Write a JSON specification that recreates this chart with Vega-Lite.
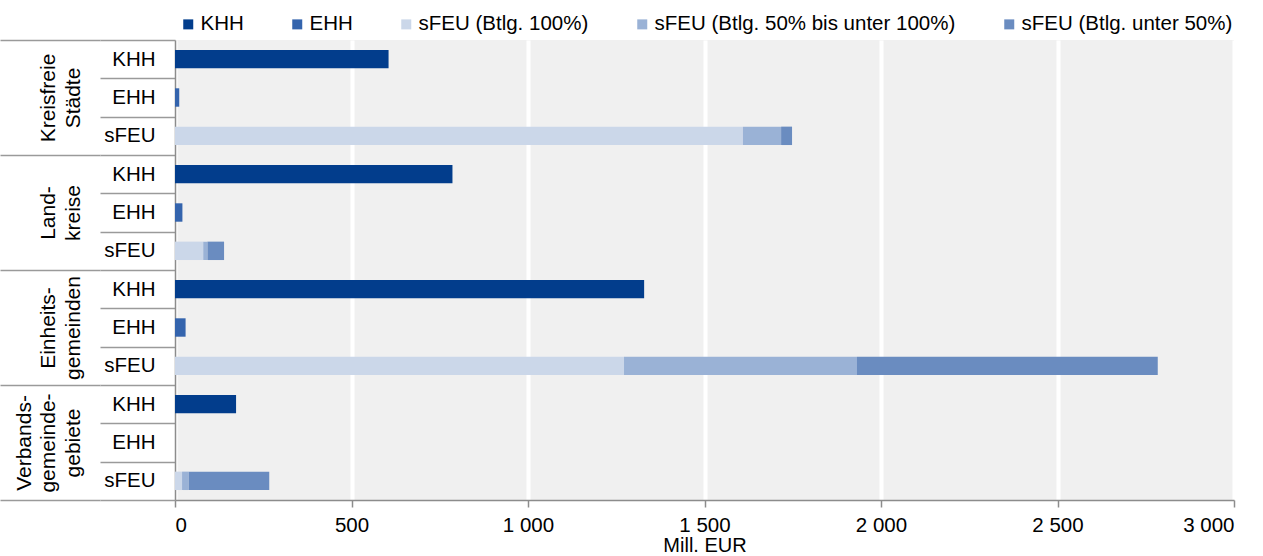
{
  "$schema": "https://vega.github.io/schema/vega-lite/v6.json",
  "width": 1059,
  "height": 460,
  "autosize": {"type": "none"},
  "padding": {"left": 175, "top": 40, "right": 29, "bottom": 56},
  "background": "white",
  "config": {
    "font": "Liberation Sans",
    "view": {"fill": "#F0F0F0", "stroke": null},
    "axis": {"labelColor": "#000000", "titleColor": "#000000", "labelFont": "Liberation Sans", "titleFont": "Liberation Sans"},
    "legend": {"labelColor": "#000000", "labelFont": "Liberation Sans"}
  },
  "data": {
    "values": [
      {"Gruppe": "Kreisfreie Städte", "Kategorie": "KHH", "Reihe": "KHH", "Wert": 605},
      {"Gruppe": "Kreisfreie Städte", "Kategorie": "EHH", "Reihe": "EHH", "Wert": 12},
      {"Gruppe": "Kreisfreie Städte", "Kategorie": "sFEU", "Reihe": "sFEU (Btlg. 100%)", "Wert": 1609},
      {"Gruppe": "Kreisfreie Städte", "Kategorie": "sFEU", "Reihe": "sFEU (Btlg. 50% bis unter 100%)", "Wert": 108},
      {"Gruppe": "Kreisfreie Städte", "Kategorie": "sFEU", "Reihe": "sFEU (Btlg. unter 50%)", "Wert": 31},
      {"Gruppe": "Landkreise", "Kategorie": "KHH", "Reihe": "KHH", "Wert": 786},
      {"Gruppe": "Landkreise", "Kategorie": "EHH", "Reihe": "EHH", "Wert": 21},
      {"Gruppe": "Landkreise", "Kategorie": "sFEU", "Reihe": "sFEU (Btlg. 100%)", "Wert": 80},
      {"Gruppe": "Landkreise", "Kategorie": "sFEU", "Reihe": "sFEU (Btlg. 50% bis unter 100%)", "Wert": 12},
      {"Gruppe": "Landkreise", "Kategorie": "sFEU", "Reihe": "sFEU (Btlg. unter 50%)", "Wert": 47},
      {"Gruppe": "Einheitsgemeinden", "Kategorie": "KHH", "Reihe": "KHH", "Wert": 1329},
      {"Gruppe": "Einheitsgemeinden", "Kategorie": "EHH", "Reihe": "EHH", "Wert": 30},
      {"Gruppe": "Einheitsgemeinden", "Kategorie": "sFEU", "Reihe": "sFEU (Btlg. 100%)", "Wert": 1272},
      {"Gruppe": "Einheitsgemeinden", "Kategorie": "sFEU", "Reihe": "sFEU (Btlg. 50% bis unter 100%)", "Wert": 660},
      {"Gruppe": "Einheitsgemeinden", "Kategorie": "sFEU", "Reihe": "sFEU (Btlg. unter 50%)", "Wert": 852},
      {"Gruppe": "Verbandsgemeindegebiete", "Kategorie": "KHH", "Reihe": "KHH", "Wert": 173},
      {"Gruppe": "Verbandsgemeindegebiete", "Kategorie": "EHH", "Reihe": "EHH", "Wert": 0},
      {"Gruppe": "Verbandsgemeindegebiete", "Kategorie": "sFEU", "Reihe": "sFEU (Btlg. 100%)", "Wert": 20},
      {"Gruppe": "Verbandsgemeindegebiete", "Kategorie": "sFEU", "Reihe": "sFEU (Btlg. 50% bis unter 100%)", "Wert": 19},
      {"Gruppe": "Verbandsgemeindegebiete", "Kategorie": "sFEU", "Reihe": "sFEU (Btlg. unter 50%)", "Wert": 228}
    ]
  },
  "transform": [{"calculate": "datum.Gruppe + '|' + datum.Kategorie", "as": "Zeile"}],
  "layer": [
    {
      "mark": {"type": "bar", "height": {"band": 0.48}},
      "encoding": {
        "y": {
          "field": "Zeile",
          "type": "nominal",
          "sort": null,
          "scale": {"paddingInner": 0, "paddingOuter": 0},
          "axis": {
            "title": null,
            "orient": "left",
            "domain": true,
            "domainColor": "#8C8C8C",
            "domainWidth": 1.5,
            "ticks": true,
            "tickBand": "extent",
            "tickSize": 75,
            "tickColor": "#9A9A9A",
            "tickWidth": 1.5,
            "labelExpr": "split(datum.value, '|')[1]",
            "labelFontSize": 20.5,
            "labelPadding": -55,
            "labelAlign": "right",
            "labelBaseline": "middle",
            "grid": false
          }
        },
        "x": {
          "field": "Wert",
          "type": "quantitative",
          "stack": "zero",
          "scale": {"domain": [0, 3000], "nice": false},
          "axis": {
            "title": "Mill. EUR",
            "values": [0, 500, 1000, 1500, 2000, 2500, 3000],
            "labelExpr": "replace(format(datum.value, ','), ',', ' ')",
            "domainColor": "#8C8C8C",
            "domainWidth": 1.5,
            "tickColor": "#8C8C8C",
            "tickWidth": 1.5,
            "tickSize": 7,
            "labelPadding": 8,
            "labelFontSize": 20.5,
            "titleFontSize": 20,
            "titleFontWeight": "normal",
            "titlePadding": 0,
            "grid": true,
            "gridColor": "#FFFFFF",
            "gridWidth": 4
          }
        },
        "color": {
          "field": "Reihe",
          "type": "nominal",
          "scale": {
            "domain": ["KHH", "EHH", "sFEU (Btlg. 100%)", "sFEU (Btlg. 50% bis unter 100%)", "sFEU (Btlg. unter 50%)"],
            "range": ["#023D8C", "#3464AD", "#CBD7E9", "#9AB2D6", "#6A8CC0"]
          },
          "legend": {
            "orient": "top",
            "direction": "horizontal",
            "title": null,
            "symbolType": "square",
            "symbolSize": 100,
            "symbolStrokeWidth": 0,
            "labelFontSize": 20.5,
            "labelLimit": 0,
            "labelOffset": 2,
            "columnPadding": 40,
            "padding": 0,
            "offset": 5,
            "symbolOffset": 3
          }
        },
        "order": {"field": "Reihe", "sort": "ascending"}
      }
    },
    {
      "mark": {"type": "point", "opacity": 0},
      "encoding": {
        "y": {
          "field": "Gruppe",
          "type": "nominal",
          "scale": {
            "domain": ["Kreisfreie Städte", "Landkreise", "Einheitsgemeinden", "Verbandsgemeindegebiete"],
            "paddingInner": 0,
            "paddingOuter": 0
          },
          "axis": {
            "title": null,
            "orient": "left",
            "offset": 75,
            "domain": false,
            "ticks": true,
            "tickBand": "extent",
            "tickSize": 100,
            "tickColor": "#9A9A9A",
            "tickWidth": 1.5,
            "labelAngle": 270,
            "labelAlign": "center",
            "labelBaseline": "bottom",
            "labelPadding": -34,
            "labelLineHeight": 24.5,
            "labelFontSize": 21,
            "labelExpr": "datum.value == 'Kreisfreie Städte' ? ['', 'Kreisfreie', 'Städte'] : datum.value == 'Landkreise' ? ['', 'Land-', 'kreise'] : datum.value == 'Einheitsgemeinden' ? ['', 'Einheits-', 'gemeinden'] : datum.value == 'Verbandsgemeindegebiete' ? ['Verbands-', 'gemeinde-', 'gebiete'] : ''",
            "grid": false
          }
        }
      }
    }
  ],
  "resolve": {"scale": {"y": "independent"}}
}
